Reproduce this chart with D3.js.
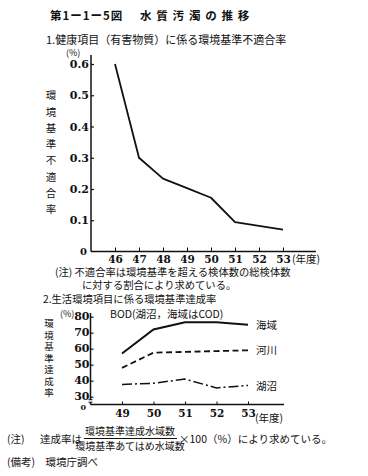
<!DOCTYPE html>
<html>
<head>
<meta charset="utf-8">
<script src="https://cdn.jsdelivr.net/npm/d3@7"></script>
<style>
  body { margin: 0; background: #fff; }
  svg text { fill: #111; }
</style>
</head>
<body>
<script>
// chart 1: health items non-compliance rate
const years1 = [46, 47, 48, 49, 50, 51, 52, 53];
const rate1 = [0.6, 0.3, 0.233, 0.203, 0.172, 0.094, 0.082, 0.07];
const yTicks1 = [0.1, 0.2, 0.3, 0.4, 0.5, 0.6];

// chart 2: living environment items attainment rate
const years2 = [49, 50, 51, 52, 53];
const seaArea = [57, 72, 76.5, 76.5, 75];
const rivers = [48, 57.5, 58, 58.5, 59];
const lakes = [37.7, 38.4, 41, 35.5, 37];
const seriesNames = ['海域', '河川', '湖沼'];
const yTicks2 = [30, 40, 50, 60, 70, 80];

const JP = '"Noto Sans CJK JP", sans-serif';
const NUM = '"DejaVu Serif", "Liberation Serif", serif';

const svg = d3.select('body').append('svg')
  .attr('width', 368)
  .attr('height', 476);

// title
svg.append('text')
  .attr('x', 50).attr('y', 20)
  .style('font-family', JP).style('font-size', '11.5px').style('font-weight', 'bold')
  .style('letter-spacing', '1px')
  .text('第1ー1ー5図');
svg.append('text')
  .attr('x', 140).attr('y', 20)
  .style('font-family', JP).style('font-size', '11.5px').style('font-weight', 'bold')
  .style('letter-spacing', '4.8px')
  .text('水質汚濁の推移');

svg.append('text')
  .attr('x', 46).attr('y', 44)
  .style('font-family', JP).style('font-size', '11px')
  .text('1.健康項目（有害物質）に係る環境基準不適合率');

// ---------- chart 1 ----------
const x1 = d3.scaleLinear().domain([45, 53]).range([91, 283]);
const y1 = d3.scaleLinear().domain([0, 0.6]).range([251.5, 64]);

const g1 = svg.append('g');

svg.append('text')
  .attr('x', 66).attr('y', 55.5)
  .style('font-family', JP).style('font-size', '9px')
  .text('(%)');

// vertical label
svg.append('text')
  .attr('x', 51).attr('y', 90)
  .style('writing-mode', 'vertical-rl')
  .style('font-family', JP).style('font-size', '10.5px')
  .style('letter-spacing', '5.8px')
  .text('環境基準不適合率');

// y axis
const yAxis1 = d3.axisLeft(y1).tickValues(yTicks1).tickSize(-3).tickPadding(2)
  .tickFormat(d3.format('.1f'));
g1.append('g')
  .attr('transform', `translate(${x1(45)},0)`)
  .call(yAxis1)
  .call(g => g.select('.domain').remove())
  .call(g => g.selectAll('.tick line').attr('stroke', '#111').attr('stroke-width', 1.2))
  .call(g => g.selectAll('text')
    .style('font-family', NUM).style('font-size', '11px').style('font-weight', 'bold')
    .attr('x', -2));
g1.append('line')
  .attr('x1', x1(45)).attr('x2', x1(45))
  .attr('y1', y1(0)).attr('y2', 55)
  .attr('stroke', '#111').attr('stroke-width', 1.5);

// x axis
const xAxis1 = d3.axisBottom(x1).tickValues(years1).tickSize(-4).tickPadding(4)
  .tickFormat(d3.format('d'));
g1.append('g')
  .attr('transform', `translate(0,${y1(0)})`)
  .call(xAxis1)
  .call(g => g.select('.domain').remove())
  .call(g => g.selectAll('.tick line').attr('stroke', '#111'))
  .call(g => g.selectAll('text')
    .style('font-family', NUM).style('font-size', '10.5px').style('font-weight', 'bold'));
g1.append('line')
  .attr('x1', x1(45)).attr('x2', 316)
  .attr('y1', y1(0)).attr('y2', y1(0))
  .attr('stroke', '#111').attr('stroke-width', 1.5);
svg.append('text')
  .attr('x', 87).attr('y', y1(0) + 3)
  .attr('text-anchor', 'end')
  .style('font-family', NUM).style('font-size', '10px').style('font-weight', 'bold')
  .text('0');
svg.append('text')
  .attr('x', 292).attr('y', 263)
  .style('font-family', JP).style('font-size', '10.5px')
  .text('(年度)');

const line1 = d3.line()
  .x((d, i) => x1(years1[i]))
  .y(d => y1(d));
g1.append('path')
  .datum(rate1)
  .attr('d', line1)
  .attr('fill', 'none')
  .attr('stroke', '#111')
  .attr('stroke-width', 1.8)
  .attr('stroke-linejoin', 'round');

// note 1
svg.append('text')
  .attr('x', 55).attr('y', 276)
  .style('font-family', JP).style('font-size', '10.3px')
  .text('(注) 不適合率は環境基準を超える検体数の総検体数');
svg.append('text')
  .attr('x', 82).attr('y', 289.3)
  .style('font-family', JP).style('font-size', '10.3px')
  .text('に対する割合により求めている。');

// ---------- chart 2 ----------
svg.append('text')
  .attr('x', 43).attr('y', 303.3)
  .style('font-family', JP).style('font-size', '10.3px')
  .text('2.生活環境項目に係る環境基準達成率');
svg.append('text')
  .attr('x', 60).attr('y', 317)
  .style('font-family', JP).style('font-size', '9px')
  .text('(%)');
svg.append('text')
  .attr('x', 110).attr('y', 318)
  .style('font-family', JP).style('font-size', '10.5px')
  .text('BOD(湖沼，海域はCOD)');

svg.append('text')
  .attr('x', 49).attr('y', 319)
  .style('writing-mode', 'vertical-rl')
  .style('font-family', JP).style('font-size', '9.5px')
  .style('letter-spacing', '2px')
  .text('環境基準達成率');

const x2 = d3.scaleLinear().domain([48, 53]).range([90.5, 248]);
const y2 = d3.scaleLinear().domain([30, 80]).range([396.7, 316.7]);
const base2 = 404.5;
const g2 = svg.append('g');

const yAxis2 = d3.axisLeft(y2).tickValues(yTicks2).tickSize(-3).tickPadding(1)
  .tickFormat(d3.format('d'));
g2.append('g')
  .attr('transform', `translate(${x2(48)},0)`)
  .call(yAxis2)
  .call(g => g.select('.domain').remove())
  .call(g => g.selectAll('.tick line').attr('stroke', '#111').attr('stroke-width', 1.2))
  .call(g => g.selectAll('text')
    .style('font-family', NUM).style('font-size', '11px').style('font-weight', 'bold')
    .attr('dy', '0.28em'));
// axis line with a break between 30 and 0
g2.append('line')
  .attr('x1', x2(48)).attr('x2', x2(48))
  .attr('y1', y2(30) + 3).attr('y2', 313)
  .attr('stroke', '#111').attr('stroke-width', 1.5);
g2.append('path')
  .attr('d', `M${x2(48) - 2},${y2(30) + 3}h4M${x2(48) - 2},${y2(30) + 5.5}h4`)
  .attr('stroke', '#111').attr('stroke-width', 1);
g2.append('line')
  .attr('x1', x2(48)).attr('x2', x2(48))
  .attr('y1', y2(30) + 5.5).attr('y2', base2)
  .attr('stroke', '#111').attr('stroke-width', 1.5);

const xAxis2 = d3.axisBottom(x2).tickValues(years2).tickSize(-3).tickPadding(5)
  .tickFormat(d3.format('d'));
g2.append('g')
  .attr('transform', `translate(0,${base2})`)
  .call(xAxis2)
  .call(g => g.select('.domain').remove())
  .call(g => g.selectAll('.tick line').attr('stroke', '#111'))
  .call(g => g.selectAll('text')
    .style('font-family', NUM).style('font-size', '10.5px').style('font-weight', 'bold'));
g2.append('line')
  .attr('x1', x2(48)).attr('x2', 284)
  .attr('y1', base2).attr('y2', base2)
  .attr('stroke', '#111').attr('stroke-width', 1.5);
svg.append('text')
  .attr('x', 86).attr('y', base2 + 5.5)
  .attr('text-anchor', 'end')
  .style('font-family', NUM).style('font-size', '8px').style('font-weight', 'bold')
  .text('0');
svg.append('text')
  .attr('x', 255).attr('y', 422)
  .style('font-family', JP).style('font-size', '10.5px')
  .text('(年度)');

const line2 = d3.line()
  .x((d, i) => x2(years2[i]))
  .y(d => y2(d));
const series2 = [
  { name: seriesNames[0], values: seaArea, width: 2, dash: null },
  { name: seriesNames[1], values: rivers, width: 1.8, dash: '6,3.5' },
  { name: seriesNames[2], values: lakes, width: 1.5, dash: '10,3,2,3' }
];
series2.forEach(s => {
  g2.append('path')
    .datum(s.values)
    .attr('d', line2)
    .attr('fill', 'none')
    .attr('stroke', '#111')
    .attr('stroke-width', s.width)
    .attr('stroke-dasharray', s.dash);
  g2.append('text')
    .attr('x', x2(53) + 8)
    .attr('y', y2(s.values[s.values.length - 1]) + 4)
    .style('font-family', JP).style('font-size', '10.5px')
    .text(s.name);
});

// bottom notes
svg.append('text')
  .attr('x', 7).attr('y', 443)
  .style('font-family', JP).style('font-size', '10.5px')
  .text('(注)');
svg.append('text')
  .attr('x', 40).attr('y', 443)
  .style('font-family', JP).style('font-size', '10.5px')
  .text('達成率は');
svg.append('text')
  .attr('x', 130).attr('y', 435)
  .attr('text-anchor', 'middle')
  .style('font-family', JP).style('font-size', '10px')
  .text('環境基準達成水域数');
svg.append('line')
  .attr('x1', 84).attr('x2', 177)
  .attr('y1', 438.5).attr('y2', 438.5)
  .attr('stroke', '#111').attr('stroke-width', 1);
svg.append('text')
  .attr('x', 130).attr('y', 450)
  .attr('text-anchor', 'middle')
  .style('font-family', JP).style('font-size', '10px')
  .text('環境基準あてはめ水域数');
svg.append('text')
  .attr('x', 179).attr('y', 443)
  .style('font-family', JP).style('font-size', '10.5px')
  .text('×100（%）により求めている。');
svg.append('text')
  .attr('x', 7).attr('y', 466)
  .style('font-family', JP).style('font-size', '10.5px')
  .text('(備考)　環境庁調べ');
</script>
</body>
</html>
